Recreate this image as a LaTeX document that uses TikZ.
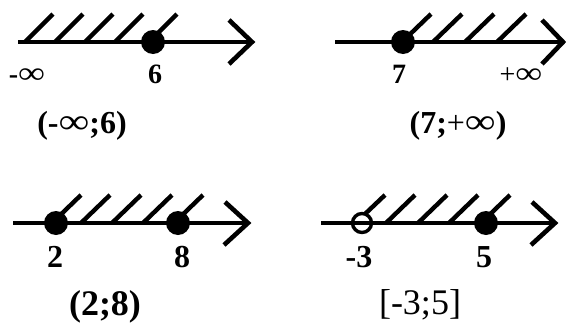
\documentclass[tikz,border=0pt]{standalone}
\usepackage{fontspec}
\setmainfont{Liberation Serif}
\usepackage{graphicx}
\newcommand{\infsign}{\scalebox{1.35}[1.1]{\mdseries ∞}}

\begin{document}
\begin{tikzpicture}[x=1pt, y=-1pt,
    axisline/.style={line width=4.6pt},
    hatchline/.style={line width=4.4pt},
    tipline/.style={line width=4.6pt, line join=miter},
    dotmark/.style={circle, fill=black, inner sep=0pt, minimum size=24pt},
    openmark/.style={circle, draw=black, line width=3.4pt, inner sep=0pt, minimum size=19pt},
    pointlabel/.style={anchor=base, font=\bfseries\fontsize{28}{30}\selectfont},
    intervallabel/.style={anchor=base, font=\bfseries\fontsize{32}{34}\selectfont}]
    \useasboundingbox (0,0) rectangle (566,327);

    % ==========================================
    % Top left: (-inf;6)
    % ==========================================
    \begin{scope}[shift={(0,42)}]
        % Axis
        \coordinate (la) at (18,0);
        \coordinate (ra) at (252,0);
        \foreach \b in {25,55,85,115,149}
            \draw[hatchline] (\b,0) -- (\b+28,-28);
        \draw[axisline] (la) -- (ra);
        \draw[tipline] (229,-22) -- (ra) -- (229,22);
        % Point
        \node[dotmark] (psix) at (153,0) {};
        % Labels
        \node[pointlabel] (lminf) at (27,41) {-\infsign};
        \node[pointlabel] (lsix) at (155,41) {6};
        \node[intervallabel] (ia) at (82,91) {(-\infsign;6)};
    \end{scope}

    % ==========================================
    % Top right: (7;+inf)
    % ==========================================
    \begin{scope}[shift={(0,42)}]
        % Axis
        \coordinate (lb) at (335,0);
        \coordinate (rb) at (563,0);
        \foreach \b in {402,433,465,497}
            \draw[hatchline] (\b,0) -- (\b+29,-28);
        \draw[axisline] (lb) -- (rb);
        \draw[tipline] (542,-22) -- (rb) -- (542,22);
        % Point
        \node[dotmark] (pseven) at (403,0) {};
        % Labels
        \node[pointlabel] (lseven) at (399,41) {7};
        \node[pointlabel] (lpinf) at (521,41) {\mdseries+\infsign};
        \node[intervallabel] (ib) at (458,91) {(7;{\mdseries+}\infsign)};
    \end{scope}

    % ==========================================
    % Bottom left: (2;8)
    % ==========================================
    \begin{scope}[shift={(0,223)}]
        % Axis
        \coordinate (lc) at (13,0);
        \coordinate (rc) at (248,0);
        \foreach \b in {52,81,112,143,174}
            \draw[hatchline] (\b,0) -- (\b+29,-28);
        \draw[axisline] (lc) -- (rc);
        \draw[tipline] (225,-21) -- (rc) -- (224,22);
        % Points
        \node[dotmark] (ptwo) at (56,0) {};
        \node[dotmark] (peight) at (178,0) {};
        % Labels
        \node[pointlabel, font=\bfseries\fontsize{32}{34}\selectfont] (ltwo) at (55,44) {2};
        \node[pointlabel, font=\bfseries\fontsize{32}{34}\selectfont] (leight) at (182,44) {8};
        \node[intervallabel, font=\bfseries\fontsize{36}{38}\selectfont] (ic) at (105,92) {(2;8)};
    \end{scope}

    % ==========================================
    % Bottom right: [-3;5]
    % ==========================================
    \begin{scope}[shift={(0,223)}]
        % Axis
        \coordinate (ld) at (321,0);
        \coordinate (rd) at (555,0);
        \draw[hatchline] (365,-9) -- (385,-28);
        \foreach \b in {386,418,449,481}
            \draw[hatchline] (\b,0) -- (\b+29,-28);
        \draw[axisline] (ld) -- (rd);
        \draw[tipline] (532,-21) -- (rd) -- (531,22);
        % Points
        \node[openmark] (pmthree) at (362,0) {};
        \node[dotmark] (pfive) at (486,0) {};
        % Labels
        \node[pointlabel, font=\bfseries\fontsize{32}{34}\selectfont] (lmthree) at (359,44) {-3};
        \node[pointlabel, font=\bfseries\fontsize{32}{34}\selectfont] (lfive) at (484,44) {5};
        \node[intervallabel, font=\fontsize{36}{38}\selectfont] (id) at (420,91) {[-3;5]};
    \end{scope}
\end{tikzpicture}
\end{document}
